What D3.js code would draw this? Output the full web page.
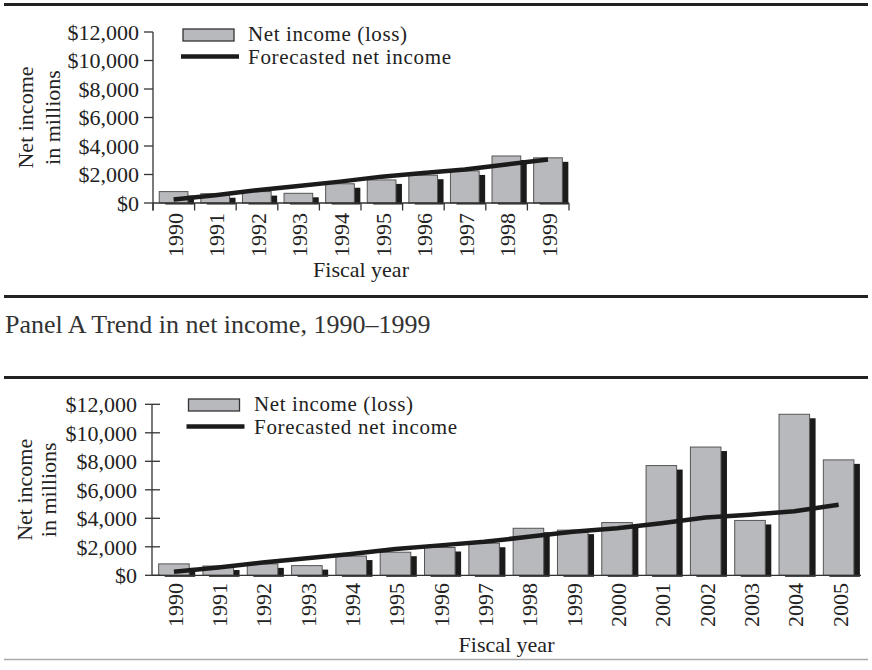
<!DOCTYPE html>
<html>
<head>
<meta charset="utf-8">
<script src="https://cdn.jsdelivr.net/npm/d3@7"></script>
<style>
  html, body { margin: 0; padding: 0; background: #fff; }
  svg { display: block; }
  text { font-family: "Liberation Serif", "Times New Roman", serif; fill: #222; }
</style>
</head>
<body>
<svg id="chart" width="872" height="670"></svg>
<script>
// ---- Data ----
const years = ["1990","1991","1992","1993","1994","1995","1996","1997","1998","1999",
               "2000","2001","2002","2003","2004","2005"];
const netIncome = [800, 650, 800, 680, 1350, 1620, 1950, 2250, 3300, 3170,
                   3700, 7700, 9000, 3850, 11300, 8100];
const forecast = [250, 550, 900, 1200, 1500, 1850, 2100, 2350, 2700, 3050,
                  3300, 3650, 4050, 4250, 4500, 4950];
const yTicks = [0, 2000, 4000, 6000, 8000, 10000, 12000];
const seriesNames = ["Net income (loss)", "Forecasted net income"];
const yTitle = ["Net income", "in millions"];
const xTitle = "Fiscal year";
const captionA = "Panel A Trend in net income, 1990\u20131999";

const svg = d3.select("#chart");
const fmt = d => "$" + d3.format(",")(d);

// Rules
function rule(y, w, color) {
  svg.append("line").attr("x1", 4).attr("x2", 868).attr("y1", y).attr("y2", y)
    .attr("stroke", color).attr("stroke-width", w);
}
rule(4.5, 3, "#222");
rule(296.5, 3, "#222");
rule(377.5, 3, "#222");
rule(659.5, 1.5, "#aaa");

svg.append("text").attr("x", 5).attr("y", 333).style("font-size", "26px").style("fill", "#333")
  .text(captionA);

function drawPanel(cfg) {
  const n = cfg.n;
  const yrs = years.slice(0, n);
  const vals = netIncome.slice(0, n);
  const fc = forecast.slice(0, n);
  const x = d3.scaleBand().domain(yrs).range([cfg.x0, cfg.x1]).padding(0);
  const y = d3.scaleLinear().domain([0, 12000]).range([cfg.y0, cfg.y1]);
  const bw = x.bandwidth();
  const g = svg.append("g");

  // shadows
  g.selectAll("rect.shadow").data(yrs).enter().append("rect")
    .attr("x", (d) => x(d) + 0.15 * bw + 6)
    .attr("width", 0.69 * bw)
    .attr("y", (d, i) => y(vals[i]) + 4)
    .attr("height", (d, i) => Math.max(0, y(0) + 1.5 - (y(vals[i]) + 4)))
    .attr("fill", "#1b1b1b");
  // bars
  g.selectAll("rect.bar").data(yrs).enter().append("rect")
    .attr("x", (d) => x(d) + 0.15 * bw)
    .attr("width", 0.69 * bw)
    .attr("y", (d, i) => y(vals[i]))
    .attr("height", (d, i) => y(0) - y(vals[i]))
    .attr("fill", "#b8b9bc").attr("stroke", "#555").attr("stroke-width", 1);

  // x baseline
  g.append("line").attr("x1", cfg.x0).attr("x2", cfg.x1).attr("y1", y(0)).attr("y2", y(0))
    .attr("stroke", "#333").attr("stroke-width", 1.3);
  if (cfg.xTicks) {
    const bounds = yrs.map(d => x(d)).concat([cfg.x1]);
    g.selectAll("line.xt").data(bounds).enter().append("line")
      .attr("x1", d => d).attr("x2", d => d).attr("y1", y(0)).attr("y2", y(0) + 7.5)
      .attr("stroke", "#333").attr("stroke-width", 1.3);
  }
  // y axis
  g.append("line").attr("x1", cfg.x0).attr("x2", cfg.x0).attr("y1", y(12000)).attr("y2", y(0) + (cfg.xTicks ? 7.5 : 0))
    .attr("stroke", "#333").attr("stroke-width", 1.3);
  g.selectAll("line.yt").data(yTicks).enter().append("line")
    .attr("x1", cfg.x0 - cfg.tickL).attr("x2", cfg.x0 + cfg.tickR)
    .attr("y1", d => y(d)).attr("y2", d => y(d))
    .attr("stroke", "#333").attr("stroke-width", 1.3);
  g.selectAll("text.yl").data(yTicks).enter().append("text")
    .attr("x", cfg.labelX).attr("y", d => y(d)).attr("dy", "0.35em")
    .attr("text-anchor", "end").style("font-size", "22px").text(fmt);

  // forecast line
  const line = d3.line().x((d, i) => x(yrs[i]) + bw * 0.495).y(d => y(d));
  g.append("path").attr("d", line(fc)).attr("fill", "none")
    .attr("stroke", "#1b1b1b").attr("stroke-width", 4.5).attr("stroke-linejoin", "round");

  // x labels
  g.selectAll("text.xl").data(yrs).enter().append("text")
    .attr("transform", d => `translate(${x(d) + bw / 2 + 1},${cfg.xLabTop}) rotate(-90)`)
    .attr("dy", "0.35em").attr("text-anchor", "end").style("font-size", "22px").text(d => d);

  // axis titles
  g.append("text").attr("x", (cfg.x0 + cfg.x1) / 2).attr("y", cfg.xTitleY)
    .attr("text-anchor", "middle").style("font-size", "22px").text(xTitle);
  const cy = (y(0) + y(12000)) / 2;
  yTitle.forEach((t, i) => {
    g.append("text").attr("transform", `translate(${cfg.yTitleX[i]},${cy}) rotate(-90)`)
      .attr("text-anchor", "middle").style("font-size", "22px").text(t);
  });

  // legend
  const L = cfg.legend;
  g.append("rect").attr("x", L.bx).attr("y", L.by).attr("width", 51).attr("height", 12)
    .attr("fill", "#b8b9bc").attr("stroke", "#333").attr("stroke-width", 1.3);
  g.append("line").attr("x1", L.lx1).attr("x2", L.lx2).attr("y1", L.ly).attr("y2", L.ly)
    .attr("stroke", "#1b1b1b").attr("stroke-width", 4.5);
  g.append("text").attr("x", L.tx).attr("y", L.t1).style("font-size", "21px")
    .attr("textLength", L.w1).attr("lengthAdjust", "spacing").text(seriesNames[0]);
  g.append("text").attr("x", L.tx).attr("y", L.t2).style("font-size", "21px")
    .attr("textLength", L.w2).attr("lengthAdjust", "spacing").text(seriesNames[1]);
}

drawPanel({
  n: 10, x0: 153, x1: 569, y0: 203, y1: 32,
  tickL: 9, tickR: 0, labelX: 139, xTicks: true,
  xLabTop: 213, xTitleY: 277, yTitleX: [33, 60],
  legend: { bx: 183, by: 29, lx1: 181, lx2: 239, ly: 56.5, tx: 248, t1: 41, t2: 64, w1: 159, w2: 203 }
});

drawPanel({
  n: 16, x0: 152, x1: 861, y0: 575.3, y1: 404.3,
  tickL: 7, tickR: 8, labelX: 137, xTicks: false,
  xLabTop: 583, xTitleY: 652, yTitleX: [32, 56],
  legend: { bx: 188.5, by: 399, lx1: 186.5, lx2: 244.5, ly: 426.5, tx: 254, t1: 411, t2: 434, w1: 159, w2: 203 }
});
</script>
</body>
</html>
